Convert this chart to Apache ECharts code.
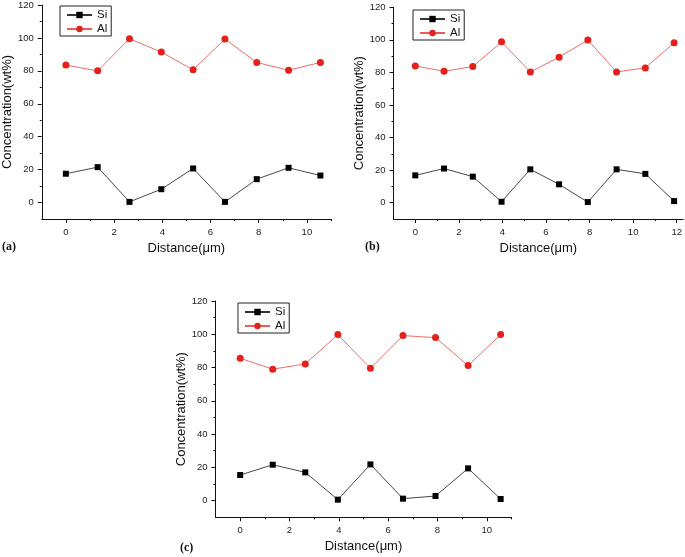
<!DOCTYPE html>
<html>
<head>
<meta charset="utf-8">
<script src="https://cdn.jsdelivr.net/npm/echarts@6/dist/echarts.min.js"></script>
<style>html,body{margin:0;padding:0;background:#fff}#c{width:685px;height:557px}</style>
</head>
<body>
<div id="c"></div>
<script>
// ---- data ----
var xA = [0, 1.32, 2.64, 3.96, 5.28, 6.6, 7.92, 9.24, 10.56];
var siA = [17.5, 21.5, 0.4, 8.1, 20.7, 0.4, 14.2, 21.1, 16.4];
var alA = [83.5, 80.0, 99.5, 91.4, 80.6, 99.3, 85.1, 80.4, 85.1];

var xB = [0, 1.32, 2.64, 3.96, 5.28, 6.6, 7.92, 9.24, 10.56, 11.88];
var siB = [16.8, 21.0, 16.0, 0.6, 20.5, 11.3, 0.4, 20.5, 17.7, 1.0];
var alB = [84.0, 80.7, 83.6, 98.8, 80.3, 89.4, 99.9, 80.3, 82.8, 98.2];

var xC = [0, 1.32, 2.64, 3.96, 5.28, 6.6, 7.92, 9.24, 10.56];
var siC = [15.4, 21.6, 17.0, 0.6, 21.8, 1.2, 2.8, 19.4, 1.0];
var alC = [85.6, 79.0, 82.2, 99.8, 79.6, 99.2, 98.0, 81.2, 99.8];

var yTicks = [0, 20, 40, 60, 80, 100, 120];
var yMinorTicks = [10, 30, 50, 70, 90, 110];
var xTicksA = [0, 2, 4, 6, 8, 10];
var xMinorA = [1, 3, 5, 7, 9, 11];
var xTicksB = [0, 2, 4, 6, 8, 10, 12];
var xMinorB = [1, 3, 5, 7, 9, 11];
var xTicksC = [0, 2, 4, 6, 8, 10];
var xMinorC = [1, 3, 5, 7, 9, 11];
var panelLabels = ['(a)', '(b)', '(c)'];
var seriesNames = ['Si', 'Al'];
var xName = 'Distance(\u03bcm)';
var yName = 'Concentration(wt%)';

// ---- layout ----
var FONT = 'Liberation Sans, Arial, sans-serif';
var panels = [
  {grid: {left: 40.5, top: 5, width: 290.5, height: 214}, xMin: -1, xMax: 11, xt: xTicksA, xm: xMinorA, x: xA, si: siA, al: alA,
   legend: {left: 60, top: 6}, yGap: 27, label: {x: 2, y: 241}},
  {grid: {left: 393.5, top: 7.3, width: 291.5, height: 211.7}, xMin: -1, xMax: 12.3, xt: xTicksB, xm: xMinorB, x: xB, si: siB, al: alB,
   legend: {left: 413, top: 10}, yGap: 26, label: {x: 365, y: 241}},
  {grid: {left: 215.5, top: 301, width: 296, height: 216.3}, xMin: -1, xMax: 11, xt: xTicksC, xm: xMinorC, x: xC, si: siC, al: alC,
   legend: {left: 238, top: 303}, yGap: 28, label: {x: 180, y: 542}}
];

function pairs(xs, ys) { return xs.map(function (v, i) { return [v, ys[i]]; }); }

var grids = [], xAxes = [], yAxes = [], series = [], legends = [], graphics = [];
var axisCol = '#111';
panels.forEach(function (p, i) {
  grids.push(p.grid);
  var main = 2 * i;
  xAxes.push({
    type: 'value', gridIndex: i, min: p.xMin, max: p.xMax, position: 'bottom',
    name: xName, nameLocation: 'middle', nameGap: 23,
    nameTextStyle: {fontFamily: FONT, fontSize: 13, color: '#111'},
    axisLine: {show: true, onZero: false, lineStyle: {color: axisCol, width: 1}},
    axisTick: {show: true, inside: false, length: 4, customValues: p.xt, lineStyle: {color: axisCol}},
    axisLabel: {show: true, margin: 8, customValues: p.xt, fontFamily: FONT, fontSize: 9.5, color: '#222'},
    splitLine: {show: false}
  });
  xAxes.push({
    type: 'value', gridIndex: i, min: p.xMin, max: p.xMax, position: 'bottom',
    axisLine: {show: false, onZero: false},
    axisTick: {show: true, inside: false, length: 2, customValues: p.xm, lineStyle: {color: axisCol}},
    axisLabel: {show: false}, splitLine: {show: false}
  });
  yAxes.push({
    type: 'value', gridIndex: i, min: -10, max: 120, position: 'left',
    name: yName, nameLocation: 'middle', nameGap: p.yGap,
    nameTextStyle: {fontFamily: FONT, fontSize: 13, color: '#111'},
    axisLine: {show: true, onZero: false, lineStyle: {color: axisCol, width: 1}},
    axisTick: {show: true, inside: false, length: 4, customValues: yTicks, lineStyle: {color: axisCol}},
    axisLabel: {show: true, margin: 8, customValues: yTicks, fontFamily: FONT, fontSize: 9.5, color: '#222'},
    splitLine: {show: false}
  });
  yAxes.push({
    type: 'value', gridIndex: i, min: -10, max: 120, position: 'left',
    axisLine: {show: false, onZero: false},
    axisTick: {show: true, inside: false, length: 2, customValues: yMinorTicks, lineStyle: {color: axisCol}},
    axisLabel: {show: false}, splitLine: {show: false}
  });
  series.push({
    name: seriesNames[0], type: 'line', xAxisIndex: main, yAxisIndex: main,
    data: pairs(p.x, p.si), symbol: 'rect', symbolSize: 6,
    itemStyle: {color: '#000'}, lineStyle: {color: '#333', width: 0.9}, animation: false
  });
  series.push({
    name: seriesNames[1], type: 'line', xAxisIndex: main, yAxisIndex: main,
    data: pairs(p.x, p.al), symbol: 'circle', symbolSize: 7,
    itemStyle: {color: '#e3201b'}, lineStyle: {color: '#f05a5a', width: 0.9}, animation: false
  });
  legends.push({
    data: seriesNames, orient: 'vertical', left: p.legend.left, top: p.legend.top,
    padding: [3, 4, 1, 6], itemGap: 2, itemWidth: 25, itemHeight: 8,
    borderColor: '#222', borderWidth: 1, selectedMode: false,
    textStyle: {fontFamily: FONT, fontSize: 11.5, color: '#111', lineHeight: 11}
  });
  graphics.push({
    type: 'text', left: p.label.x, top: p.label.y,
    style: {text: panelLabels[i], font: 'bold 12px "Liberation Serif", "Times New Roman", serif', fill: '#111'}
  });
});

var chart = echarts.init(document.getElementById('c'), null, {renderer: 'canvas'});
chart.setOption({
  backgroundColor: '#fff',
  animation: false,
  grid: grids, xAxis: xAxes, yAxis: yAxes, series: series, legend: legends, graphic: graphics
});
</script>
</body>
</html>
